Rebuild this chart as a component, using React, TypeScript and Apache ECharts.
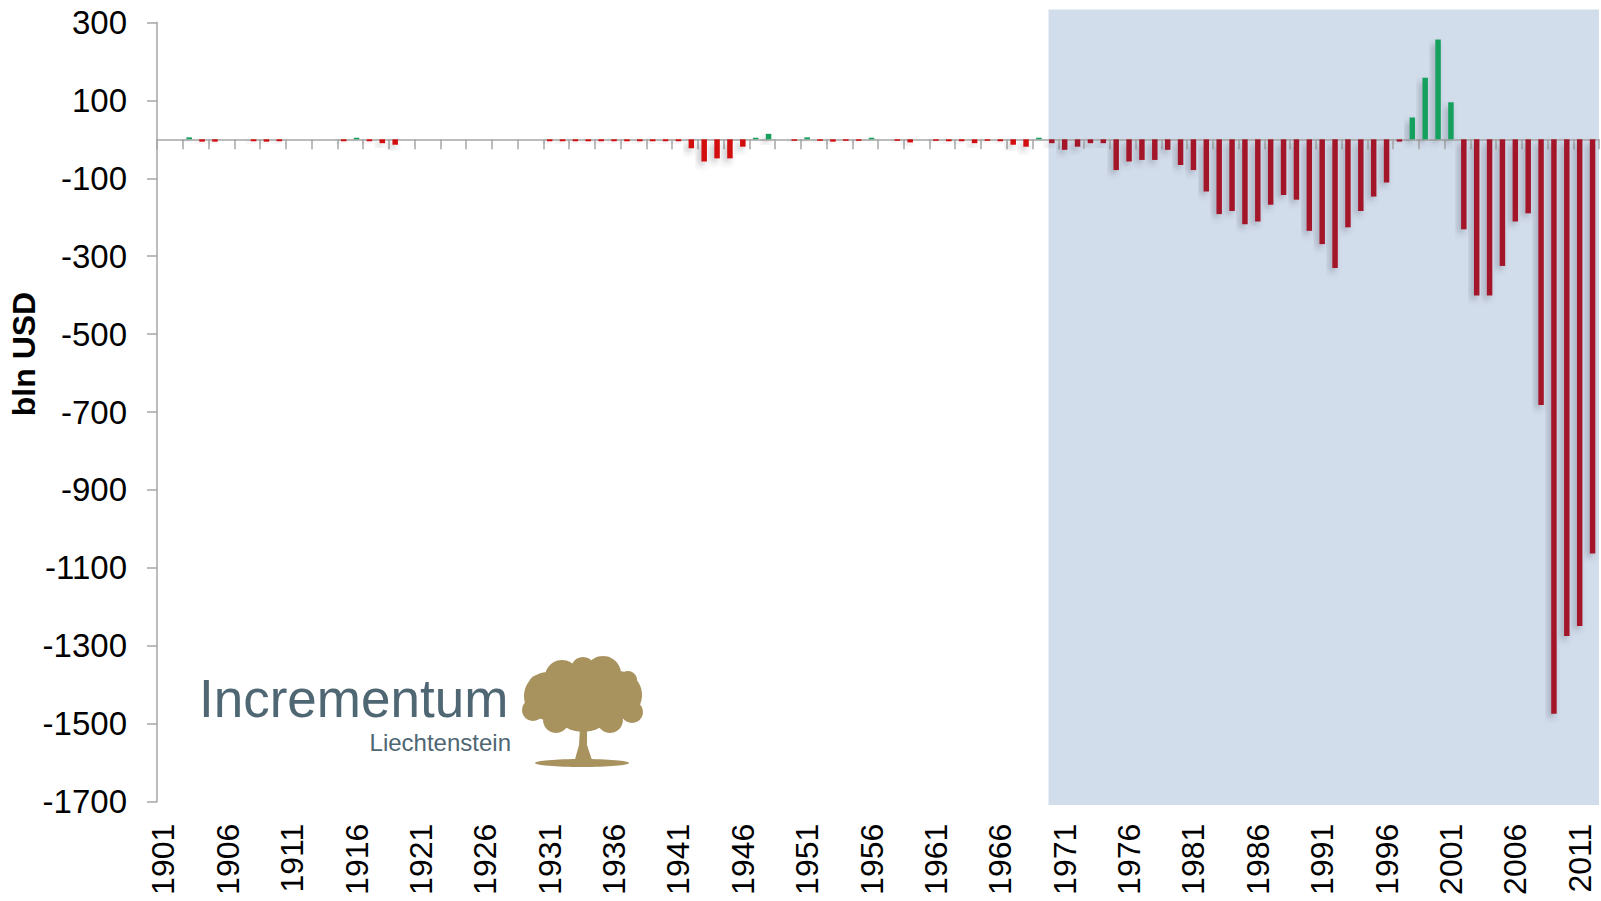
import React, { useEffect, useRef } from "react";
import * as echarts from "echarts";

// Categories: fiscal years 1901–2012
const years: string[] = Array.from({ length: 112 }, (_, i) => String(1901 + i));

// US federal budget balance, bln USD
const balance1901_1920 = [0, 0, 5, -6, -6, 0, 0, -5, -6, -5, 0, 0, 0, 0, -5, 4, -5, -10, -14, 0];
const balance1921_1940 = [0, 0, 0, 0, 0, 0, 0, 0, 0, 0, -5, -5, -5, -5, -5, -5, -5, -5, -5, -5];
const balance1941_1960 = [-5, -23, -57, -49, -49, -19, 4, 14, 0, -4, 5, -4, -6, -4, -4, 4, 0, -4, -8, 0];
const balance1961_1980 = [-4, -5, -5, -10, -4, -5, -14, -19, 4, -10, -27, -19, -10, -10, -79, -57, -53, -53, -27, -66];
const balance1981_2000 = [-79, -134, -192, -184, -218, -211, -168, -143, -155, -235, -269, -330, -226, -184, -147, -111, -6, 56, 158, 256];
const balance2001_2012 = [95, -231, -401, -401, -325, -211, -190, -682, -1474, -1275, -1249, -1063];

const balance: number[] = [
  ...balance1901_1920,
  ...balance1921_1940,
  ...balance1941_1960,
  ...balance1961_1980,
  ...balance1981_2000,
  ...balance2001_2012,
];

const yMin = -1700;
const yMax = 300;
const yStep = 200;
const shadeFromYear = "1970";

const FONT = "'Liberation Sans', Arial, sans-serif";
const GREY = "#a6a6a6";
const RED_EARLY = "#d20a0a";
const RED_LATE = "#a3192b";
const GREEN = "#17a05d";
const GOLD = "#a8925e";
const SLATE = "#4f6673";

export default function App() {
  const ref = useRef<HTMLDivElement>(null);

  useEffect(() => {
    if (!ref.current) return;
    const chart = echarts.init(ref.current, undefined, { renderer: "svg" });

    const option: any = {
      animation: false,
      backgroundColor: "#ffffff",
      grid: { left: 157, right: 2, top: 22.4, bottom: 99.3, containLabel: false },
      xAxis: [
        {
          type: "category",
          data: years,
          boundaryGap: true,
          axisLine: { show: true, onZero: true, lineStyle: { color: GREY, width: 1.5 } },
          axisTick: { show: true, interval: 1, length: 10, lineStyle: { color: GREY, width: 1.5 } },
          axisLabel: { show: false },
          splitLine: { show: false },
          z: 1,
        },
        {
          type: "category",
          data: years,
          position: "bottom",
          boundaryGap: true,
          axisLine: { show: false, onZero: false },
          axisTick: { show: false },
          axisLabel: {
            show: true,
            interval: 4,
            rotate: 90,
            margin: 22,
            fontSize: 32,
            color: "#000",
            fontFamily: FONT,
            hideOverlap: false,
          },
          splitLine: { show: false },
        },
      ],
      yAxis: {
        type: "value",
        min: yMin,
        max: yMax,
        interval: yStep,
        axisLine: { show: true, lineStyle: { color: GREY, width: 1.5 } },
        axisTick: { show: true, length: 10, lineStyle: { color: GREY, width: 1.5 } },
        axisLabel: {
          fontSize: 33,
          color: "#000",
          fontFamily: FONT,
          margin: 30,
          formatter: (v: number) => String(v),
        },
        splitLine: { show: false },
      },
      series: [
        {
          type: "bar",
          xAxisIndex: 0,
          data: balance,
          barWidth: 5.5,
          z: 3,
          itemStyle: {
            color: (p: any) => {
              if (p.value >= 0) return GREEN;
              return Number(years[p.dataIndex]) >= Number(shadeFromYear) ? RED_LATE : RED_EARLY;
            },
            shadowColor: "rgba(60,60,70,0.35)",
            shadowBlur: 6,
            shadowOffsetX: -3,
            shadowOffsetY: 4,
          },
        },
      ],
    };

    chart.setOption(option);

    const xStart = chart.convertToPixel({ xAxisIndex: 0 }, shadeFromYear) as number;
    const yTop = chart.convertToPixel({ yAxisIndex: 0 }, yMax) as number;
    const yBottom = chart.convertToPixel({ yAxisIndex: 0 }, yMin) as number;
    const shadeLeft = xStart - 3.3;
    const shadeTop = yTop - 13;
    const shadeBottom = yBottom + 3.3;

    const canopy = [
      { cx: 583, cy: 698, r: 34 },
      { cx: 548, cy: 696, r: 24 },
      { cx: 618, cy: 695, r: 24 },
      { cx: 562, cy: 677, r: 17 },
      { cx: 603, cy: 674, r: 18 },
      { cx: 583, cy: 669, r: 12 },
      { cx: 533, cy: 710, r: 11 },
      { cx: 632, cy: 712, r: 11 },
      { cx: 556, cy: 720, r: 13 },
      { cx: 610, cy: 720, r: 13 },
      { cx: 628, cy: 680, r: 9 },
      { cx: 538, cy: 684, r: 9 },
    ];

    chart.setOption({
      graphic: [
        {
          type: "rect",
          z: -10,
          silent: true,
          shape: { x: shadeLeft, y: shadeTop, width: 1601 - shadeLeft - 2, height: shadeBottom - shadeTop },
          style: { fill: "#d2ddec" },
        },
        {
          type: "text",
          x: 24,
          y: 354,
          rotation: Math.PI / 2,
          style: {
            text: "bln USD",
            fontSize: 32,
            fontWeight: "bold",
            fontFamily: FONT,
            fill: "#000",
            textAlign: "center",
            textVerticalAlign: "middle",
          },
        },
        {
          type: "text",
          x: 199,
          y: 698,
          style: {
            text: "Incrementum",
            fontSize: 53,
            fontFamily: FONT,
            fill: SLATE,
            textAlign: "left",
            textVerticalAlign: "middle",
          },
        },
        {
          type: "text",
          x: 511,
          y: 742,
          style: {
            text: "Liechtenstein",
            fontSize: 24,
            fontFamily: FONT,
            fill: SLATE,
            textAlign: "right",
            textVerticalAlign: "middle",
          },
        },
        {
          type: "group",
          children: [
            ...canopy.map((c) => ({
              type: "circle",
              shape: c,
              style: { fill: GOLD },
            })),
            {
              type: "polygon",
              shape: {
                points: [
                  [574, 763],
                  [579, 745],
                  [580, 728],
                  [572, 718],
                  [583, 726],
                  [594, 716],
                  [587, 730],
                  [587, 745],
                  [593, 763],
                ],
              },
              style: { fill: GOLD },
            },
            {
              type: "ellipse",
              shape: { cx: 582, cy: 763, rx: 47, ry: 4 },
              style: { fill: GOLD },
            },
          ],
        },
      ],
    });

    return () => chart.dispose();
  }, []);

  return (
    <div
      ref={ref}
      style={{ position: "fixed", left: 0, top: 0, width: 1601, height: 901, background: "#fff" }}
    />
  );
}
